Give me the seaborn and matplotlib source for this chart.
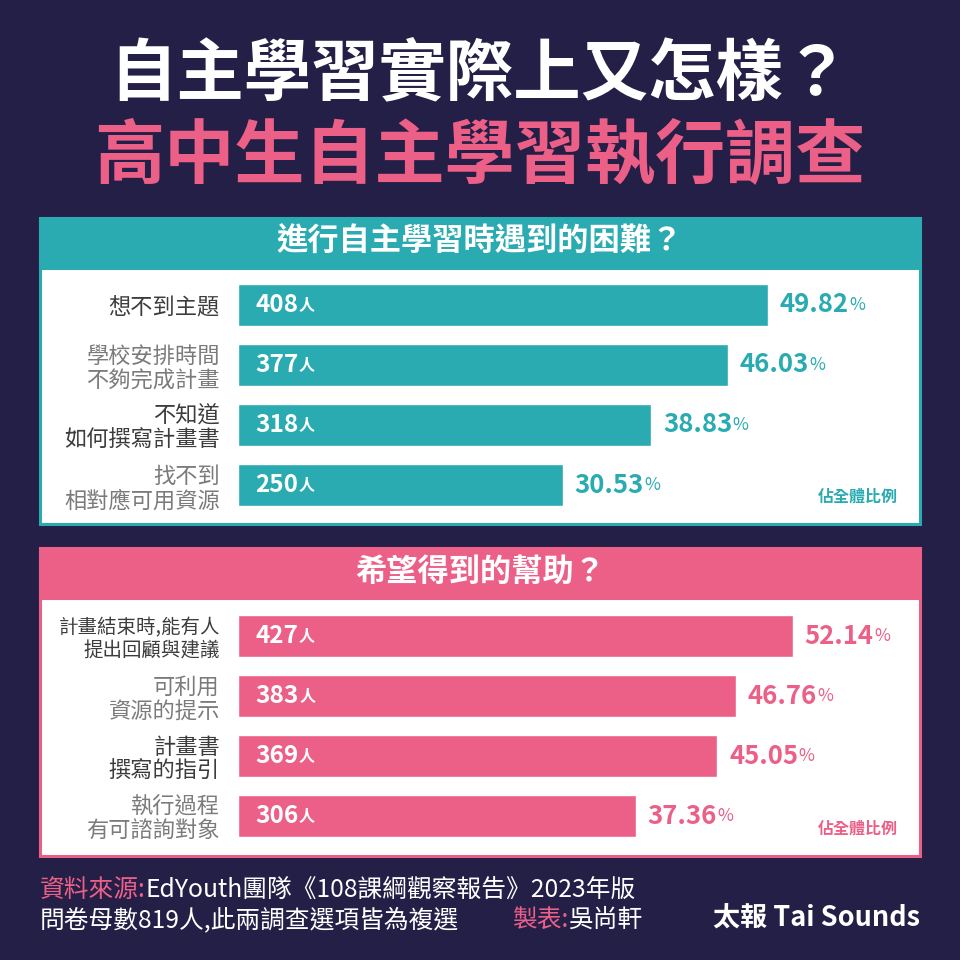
import matplotlib
matplotlib.use("Agg")
import matplotlib.pyplot as plt
import seaborn as sns
import pandas as pd
from matplotlib.patches import Rectangle

# chart data
difficulty_labels = ["想不到主題", "學校安排時間\n不夠完成計畫", "不知道\n如何撰寫計畫書", "找不到\n相對應可用資源"]
difficulty_counts = [408, 377, 318, 250]
difficulty_pcts = [49.82, 46.03, 38.83, 30.53]

help_labels = ["計畫結束時,能有人\n提出回顧與建議", "可利用\n資源的提示", "計畫書\n撰寫的指引", "執行過程\n有可諮詢對象"]
help_counts = [427, 383, 369, 306]
help_pcts = [52.14, 46.76, 45.05, 37.36]

NAVY = "#241f47"
TEAL = "#2aabb1"
PINK = "#ec6088"
DARK = "#3c3c3c"
LIGHT = "#7b7b7b"

sns.set_style("white")
plt.rcParams["font.family"] = ["Noto Sans CJK TC", "DejaVu Sans"]

W = H = 960


def fx(x):
    return x / W


def fy(y):
    return 1 - y / H


fig = plt.figure(figsize=(9.6, 9.6), dpi=100, facecolor=NAVY)

# titles
fig.text(0.5, fy(75), "自主學習實際上又怎樣？", ha="center", va="center",
         fontsize=48.5, fontweight="bold", color="white")
fig.text(0.5, fy(158), "高中生自主學習執行調查", ha="center", va="center",
         fontsize=50.5, fontweight="bold", color=PINK)


def panel(top, bottom, color, title):
    head_h = 50
    body = Rectangle((fx(40), fy(bottom)), fx(880), (bottom - top) / H,
                     transform=fig.transFigure, facecolor="white",
                     edgecolor=color, lw=2.2, zorder=-2)
    fig.add_artist(body)
    head = Rectangle((fx(40), fy(top + head_h)), fx(880), head_h / H,
                     transform=fig.transFigure, facecolor=color,
                     edgecolor=color, lw=2.2, zorder=-1)
    fig.add_artist(head)
    fig.text(0.5, fy(top + head_h / 2 - 1), title, ha="center", va="center",
             fontsize=22.5, fontweight="bold", color="white")
    fig.text(fx(898), fy(bottom - 27), "佔全體比例", ha="right", va="center",
             fontsize=11.5, fontweight="bold", color=color)


def chart(top, labels, counts, pcts, color):
    ax = fig.add_axes([fx(238), fy(top + 240), fx(680), 240 / H])
    df = pd.DataFrame({"label": labels, "pct": pcts})
    sns.barplot(data=df, x="pct", y="label", orient="h", color=color,
                saturation=1, width=0.7, ax=ax)
    ax.set_xlim(0, 680 / 10.64)
    ax.set_ylim(3.5, -0.5)
    ax.set_xlabel("")
    ax.set_ylabel("")
    ax.set_xticks([])
    ax.tick_params(axis="y", length=0, pad=13)
    for s in ax.spines.values():
        s.set_visible(False)
    ax.patch.set_alpha(0)
    for i, tl in enumerate(ax.get_yticklabels()):
        longest = max(len(part) for part in tl.get_text().split("\n"))
        tl.set_fontsize(16 if longest <= 7 else 14)
        tl.set_linespacing(1.1)
        tl.set_color(DARK if i % 2 == 0 else LIGHT)

    for i, (c, p) in enumerate(zip(counts, pcts)):
        t = ax.annotate(str(c), xy=(0, i), xytext=(12.5, 0), textcoords="offset points",
                        ha="left", va="center", color="white", fontsize=17.5,
                        fontweight="bold")
        ax.annotate("人", xy=(1, 0), xycoords=t, xytext=(0.3, 3), textcoords="offset points",
                    ha="left", va="bottom", color="white", fontsize=11.5, fontweight="bold")
        t2 = ax.annotate(f"{p:.2f}", xy=(p, i), xytext=(8.5, 0), textcoords="offset points",
                         ha="left", va="center", color=color, fontsize=18.5,
                         fontweight="bold")
        ax.annotate("%", xy=(1, 0), xycoords=t2, xytext=(0.3, 3.2), textcoords="offset points",
                    ha="left", va="bottom", color=color, fontsize=12.5)
    return ax


panel(218, 524, TEAL, "進行自主學習時遇到的困難？")
chart(275, difficulty_labels, difficulty_counts, difficulty_pcts, TEAL)

panel(548, 856, PINK, "希望得到的幫助？")
chart(606, help_labels, help_counts, help_pcts, PINK)

# footer
FS = 17.8
f1 = fig.text(fx(40), fy(890), "資料來源:", ha="left", va="center", fontsize=FS, color=PINK)
f2 = fig.text(fx(40), fy(920), "問卷母數819人,此兩調查選項皆為複選", ha="left", va="center",
              fontsize=FS, color="white")
f3 = fig.text(fx(512), fy(920), "製表:", ha="left", va="center", fontsize=FS, color=PINK)
fig.text(fx(920), fy(919), "太報 Tai Sounds", ha="right", va="center",
         fontsize=19.5, fontweight="bold", color="white")

fig.canvas.draw()
r = fig.canvas.get_renderer()
bb = f1.get_window_extent(r)
fig.text(bb.x1 / W, fy(890), "EdYouth團隊《108課綱觀察報告》2023年版", ha="left", va="center",
         fontsize=FS, color="white")
bb3 = f3.get_window_extent(r)
fig.text(bb3.x1 / W, fy(920), "吳尚軒", ha="left", va="center", fontsize=FS, color="white")

fig.savefig("out.png", dpi=100, facecolor=NAVY)
